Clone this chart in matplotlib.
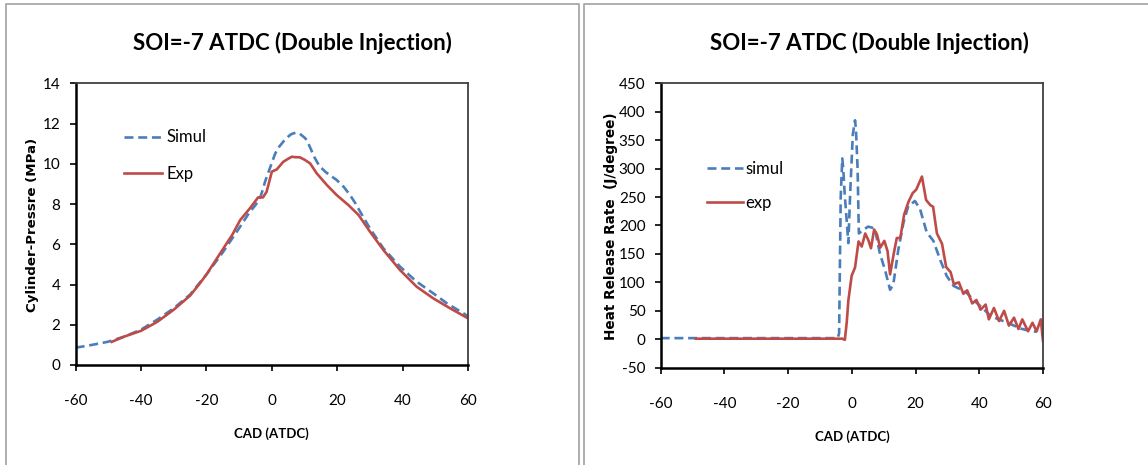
import matplotlib
matplotlib.use("Agg")
import matplotlib.pyplot as plt
from matplotlib.lines import Line2D

plt.rcParams["axes.unicode_minus"] = False

# ---- cylinder pressure (MPa) vs crank angle (deg ATDC) ----
cad_p_sim = [-60, -55, -50, -45, -40, -35, -30, -25, -20, -15, -10, -7, -5, -3.5,
             -3, -2, -1, 0, 1, 2, 3.5, 5, 6, 7.4, 8.5, 10, 10.7, 12, 13.2, 14.5,
             16.3, 18, 19.8, 22, 23.9, 25.5, 27, 30, 34.1, 39.2, 44.3, 49.4,
             53.5, 58.6, 60]
p_sim = [0.86, 1.0, 1.16, 1.42, 1.76, 2.26, 2.82, 3.5, 4.5, 5.6, 6.8, 7.55, 7.95, 8.35,
         8.6, 9.15, 9.6, 10.05, 10.5, 10.8, 11.1, 11.35, 11.48, 11.55, 11.5, 11.3,
         11.18, 10.7, 10.27, 9.9, 9.61, 9.4, 9.2, 8.85, 8.45, 8.05, 7.62, 6.79,
         5.8, 4.89, 4.14, 3.56, 3.07, 2.57, 2.42]

cad_p_exp = [-49, -45, -40, -35, -30, -25, -22, -20, -15.8, -12, -9.7, -6.7, -4.2,
             -2.7, -1.6, 0, 1.5, 3.5, 5, 6.1, 7, 8.6, 10, 11.7, 13.7, 16.8, 19.8,
             23.4, 26.5, 30, 34.1, 39.2, 44.3, 49.4, 54.5, 60]
p_exp = [1.15, 1.42, 1.7, 2.15, 2.75, 3.45, 4.06, 4.5, 5.55, 6.5, 7.2, 7.79, 8.33,
         8.33, 8.61, 9.61, 9.72, 10.1, 10.25, 10.35, 10.33, 10.32, 10.2, 10.02,
         9.53, 8.95, 8.45, 7.95, 7.46, 6.63, 5.72, 4.72, 3.89, 3.31, 2.82, 2.32]

# ---- heat release rate (J/degree) vs crank angle ----
cad_h_sim = [-60, -50, -40, -20, -4.5, -4, -3.5, -3, -2.7, -2.3, -1.1, -0.5, 0.3,
             1.0, 1.3, 1.8, 2.2, 3.5, 5.1, 7.2, 8.8, 10.5, 12, 13, 14.6, 16.2,
             17.7, 19.8, 21.4, 23.5, 25.6, 27.7, 29.8, 31.9, 34, 36, 38, 40.2,
             43.4, 46, 48.6, 52.8, 55, 58]
hrr_sim = [2, 2, 2, 2, 2, 10, 250, 318, 300, 260, 169, 260, 360, 385, 368, 300, 186,
           192, 198, 195, 151, 120, 87, 96, 158, 205, 234, 243, 229, 188, 173,
           140, 111, 94, 88, 82, 70, 59, 42, 35, 30, 19, 16, 13]

cad_h_exp = [-49, -20, -3, -2.2, -1.6, -1.1, -0.05, 1.0, 2.1, 3.1, 4.2, 5.2, 6.0, 7,
             7.9, 8.9, 10.2, 11.2, 12, 13.1, 14.1, 15.2, 16.4, 17.8, 19.1, 20.2,
             22, 23.3, 24.6, 25.5, 26.7, 28.3, 29.6, 31, 32, 33.6, 35, 36.2, 37.8,
             39.1, 40.4, 42, 43, 44.6, 46.2, 47.8, 49.3, 50.9, 52.3, 53.5, 55.3,
             56.7, 58, 59.3, 60]
hrr_exp = [1, 1, 1, -1, 30, 68, 112, 126, 172, 163, 186, 174, 160, 193, 184, 161,
           173, 155, 114, 149, 178, 178, 219, 242, 257, 263, 286, 245, 236, 233,
           186, 168, 127, 118, 97, 100, 80, 86, 63, 69, 52, 61, 35, 55, 32, 50,
           24, 38, 18, 35, 14, 29, 14, 35, -3]

x_ticks = [-60, -40, -20, 0, 20, 40, 60]
p_ticks = [0, 2, 4, 6, 8, 10, 12, 14]
h_ticks = [-50, 0, 50, 100, 150, 200, 250, 300, 350, 400, 450]

title_text = "SOI=-7 ATDC (Double Injection)"

BLUE = "#4a7ebb"
RED = "#be4b48"
NARROW = ["Lato", "DejaVu Sans"]
WIDE = ["DejaVu Sans"]

W, H = 1148, 465
fig = plt.figure(figsize=(W / 100, H / 100), dpi=100)
fig.patch.set_facecolor("white")


def fx(px):
    return px / W


def fy(py):
    return 1 - py / H


# panel frames
frame_kw = dict(transform=fig.transFigure, color="#a8a8a8", lw=1.3)
fig.add_artist(Line2D([fx(6), fx(6), fx(578.5), fx(578.5)],
                      [fy(470), fy(4), fy(4), fy(470)], **frame_kw))
fig.add_artist(Line2D([fx(583.5), fx(583.5), fx(1150)],
                      [fy(470), fy(4), fy(4)], **frame_kw))

axL = fig.add_axes([fx(75.7), fy(365), (468 - 75.7) / W, (365 - 83.3) / H])
axR = fig.add_axes([fx(660.7), fy(367.7), (1043 - 660.7) / W, (367.7 - 83.3) / H])

dash = (0, (3.4, 1.8))

axL.plot(cad_p_sim, p_sim, color=BLUE, lw=1.9, ls=dash, label="Simul")
axL.plot(cad_p_exp, p_exp, color=RED, lw=1.9, label="Exp")
axL.set_xlim(-60, 60)
axL.set_ylim(0, 14)
axL.set_yticks(p_ticks)

axR.plot(cad_h_sim, hrr_sim, color=BLUE, lw=1.9, ls=dash, label="simul")
axR.plot(cad_h_exp, hrr_exp, color=RED, lw=1.9, label="exp")
axR.set_xlim(-60, 60)
axR.set_ylim(-50, 450)
axR.set_yticks(h_ticks)

for ax in (axL, axR):
    ax.set_xticks(x_ticks)
    ax.tick_params(axis="x", direction="out", length=4, width=1.2, pad=17,
                   labelsize=11, colors="black")
    ax.tick_params(axis="y", direction="out", length=4, width=1.2, pad=7,
                   labelsize=11, colors="black")
    for lab in ax.get_xticklabels() + ax.get_yticklabels():
        lab.set_family(NARROW)
    ax.spines["left"].set_linewidth(1.8)
    ax.spines["bottom"].set_linewidth(1.8)
    ax.spines["left"].set_color("black")
    ax.spines["bottom"].set_color("black")
    ax.spines["top"].set_color("#404040")
    ax.spines["right"].set_color("#404040")
    ax.spines["top"].set_linewidth(1.3)
    ax.spines["right"].set_linewidth(1.3)

legL = axL.legend(loc="center left", bbox_to_anchor=(fx(124), fy(155.8)),
                  bbox_transform=fig.transFigure, frameon=False, borderpad=0,
                  borderaxespad=0, handlelength=2.3, handletextpad=0.25,
                  labelspacing=1.25, prop={"family": NARROW, "size": 12})
legR = axR.legend(loc="center left", bbox_to_anchor=(fx(706.7), fy(185.8)),
                  bbox_transform=fig.transFigure, frameon=False, borderpad=0,
                  borderaxespad=0, handlelength=2.2, handletextpad=0.1,
                  labelspacing=1.1, prop={"family": NARROW, "size": 12})

# titles
for cx in (292, 869.5):
    fig.text(fx(cx), fy(43), title_text, ha="center", va="center",
             family=NARROW, weight="bold", fontsize=16)

# axis labels
fig.text(fx(271.8), fy(434), "CAD (ATDC)", ha="center", va="center",
         family=NARROW, weight="bold", fontsize=9.5)
fig.text(fx(851.9), fy(437), "CAD (ATDC)", ha="center", va="center",
         family=NARROW, weight="bold", fontsize=9.5)
fig.text(fx(33), fy(225), "Cylinder-Pressre (MPa)", rotation=90,
         ha="center", va="center", family=WIDE, weight="bold", fontsize=9.6)
fig.text(fx(611), fy(226), "Heat Release Rate  (J/degree)", rotation=90,
         ha="center", va="center", family=WIDE, weight="bold", fontsize=9.8)

fig.savefig("out.png", dpi=100)
